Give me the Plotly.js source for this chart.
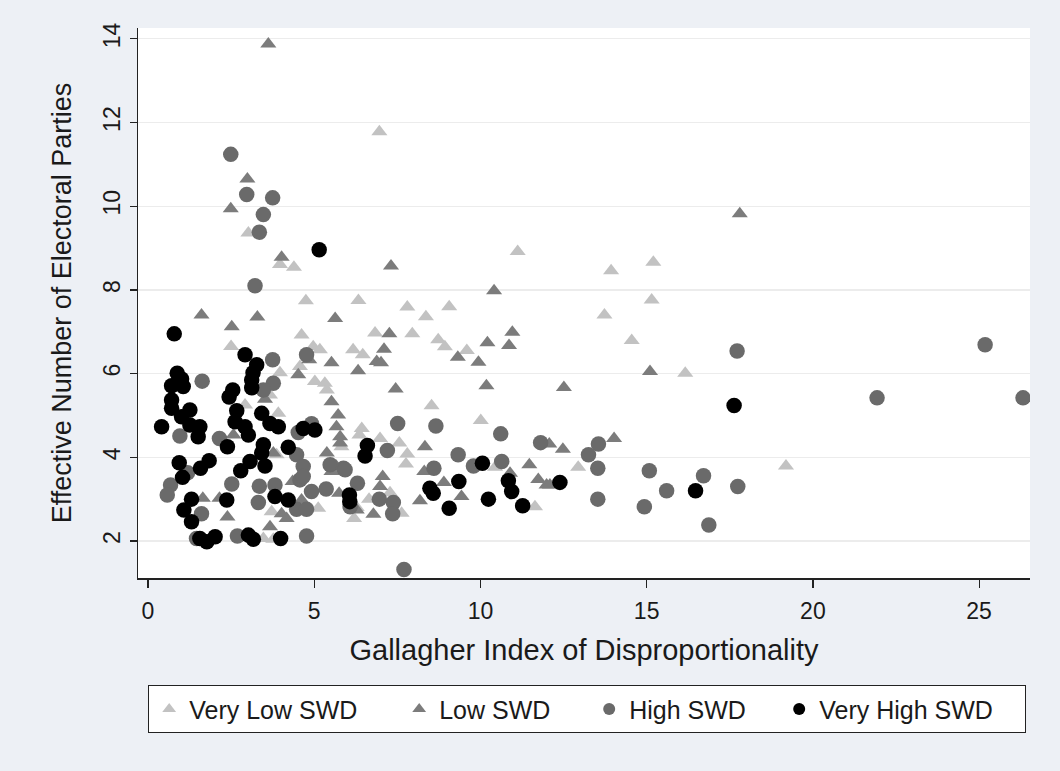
<!DOCTYPE html>
<html>
<head>
<meta charset="utf-8">
<script src="https://cdn.plot.ly/plotly-3.0.1.min.js"></script>
<style>
  html, body { margin: 0; padding: 0; background: #edf0f5; }
  #chart { width: 1060px; height: 771px; }
</style>
</head>
<body>
<div id="chart"></div>
<script>
// Gallagher index (x) and effective number of electoral parties (y), by SWD group
const veryLowX = [2.92,3.02,3.97,4.39,6.96,4.75,6.33,4.62,6.83,2.50,4.97,5.17,6.17,6.46,4.57,3.97,5.02,5.32,5.38,3.67,3.92,6.43,6.36,6.98,5.82,7.56,7.80,7.76,8.53,10.01,10.44,11.64,7.28,7.63,6.20,6.65,6.28,5.12,3.72,3.77,3.47,3.87,11.12,13.93,15.20,15.15,7.80,9.06,8.36,13.73,7.95,8.73,8.93,9.59,14.55,16.16,12.94,19.19];
const veryLowY = [5.25,9.36,8.61,8.54,11.78,7.74,7.75,6.92,6.97,6.65,6.64,6.57,6.57,6.45,6.17,6.02,5.81,5.77,5.61,5.49,5.05,4.69,4.53,4.45,4.25,4.34,4.08,3.84,5.23,4.88,3.76,2.82,3.15,2.66,2.54,3.00,2.80,2.78,2.70,2.04,2.06,4.06,8.92,8.46,8.66,7.76,7.59,7.60,7.36,7.40,6.95,6.81,6.64,6.55,6.79,6.01,3.76,3.79];

const lowX = [3.62,2.99,2.49,4.02,7.31,10.41,1.61,3.29,5.63,2.52,5.52,6.88,4.85,6.32,4.52,3.52,5.52,5.72,5.67,5.78,2.57,1.65,2.15,2.39,5.38,5.78,5.52,3.77,4.35,5.75,4.02,4.17,4.62,6.28,3.67,7.26,10.96,10.21,10.86,7.10,7.01,9.32,9.94,15.10,7.45,10.18,12.51,8.33,11.47,11.74,11.99,10.89,8.90,9.43,8.31,8.18,7.06,6.98,6.78,12.07,12.48,14.02,12.09,17.80,5.67];
const lowY = [13.88,10.65,9.94,8.78,8.57,7.98,7.40,7.35,7.32,7.12,6.26,6.29,6.33,6.07,5.97,5.39,5.33,5.01,4.73,4.49,4.53,3.02,3.02,2.57,4.10,4.34,3.66,4.10,3.42,3.14,2.65,2.54,2.98,2.74,2.34,6.95,6.99,6.74,6.67,6.58,6.26,6.39,6.27,6.05,5.63,5.71,5.67,4.25,3.82,3.47,3.34,3.62,3.40,3.06,3.66,2.96,3.54,3.30,2.64,4.32,4.19,4.45,3.34,9.82,3.78];

const highX = [2.49,2.97,3.75,3.47,3.35,3.22,1.63,3.75,4.77,3.77,3.47,4.92,4.52,0.96,2.15,1.19,0.68,0.58,2.52,1.61,1.46,2.69,4.47,4.67,5.48,5.88,3.35,3.82,4.57,4.92,5.36,6.30,3.32,4.47,4.77,4.77,7.51,8.66,10.61,11.81,7.20,9.33,8.60,9.79,10.64,5.93,6.96,7.38,7.36,6.08,7.70,13.55,13.25,13.53,15.08,16.71,17.74,15.60,13.53,14.93,16.87,17.72,21.93,25.18,26.32,4.67];
const highY = [11.24,10.28,10.20,9.80,9.38,8.10,5.82,6.33,6.45,5.77,5.61,4.80,4.59,4.51,4.45,3.63,3.34,3.10,3.36,2.65,2.06,2.12,4.06,3.78,3.82,3.74,3.31,3.34,3.46,3.18,3.24,3.38,2.92,2.76,2.76,2.12,4.81,4.75,4.56,4.35,4.16,4.06,3.74,3.79,3.90,3.70,3.00,2.92,2.65,2.82,1.32,4.32,4.06,3.74,3.68,3.56,3.30,3.20,3.00,2.82,2.38,6.54,5.42,6.69,5.42,3.54];

const veryHighX = [0.79,2.92,0.88,1.01,0.71,1.06,3.16,3.12,3.12,2.55,2.44,0.71,0.71,1.26,2.67,1.01,2.62,1.26,1.56,0.41,1.51,2.92,3.02,2.39,0.94,1.58,1.84,1.04,3.07,2.79,1.31,2.37,1.08,1.31,1.56,1.77,2.02,3.02,3.17,4.22,3.47,3.42,3.52,6.53,6.60,6.06,6.07,3.82,4.22,3.99,3.27,3.42,3.67,3.92,4.67,5.02,5.15,10.06,10.84,10.94,11.27,10.24,9.35,9.06,8.48,8.58,17.63,12.39,16.47];
const veryHighY = [6.95,6.45,6.01,5.87,5.71,5.69,6.02,5.85,5.66,5.61,5.44,5.37,5.17,5.13,5.11,4.97,4.85,4.77,4.73,4.73,4.49,4.73,4.53,4.25,3.87,3.74,3.92,3.52,3.90,3.68,3.00,2.98,2.74,2.46,2.06,1.98,2.10,2.14,2.04,4.24,4.30,4.10,3.79,4.03,4.28,3.10,2.94,3.06,2.98,2.06,6.21,5.05,4.81,4.73,4.69,4.65,8.96,3.86,3.44,3.18,2.84,3.00,3.42,2.78,3.26,3.14,5.24,3.40,3.20];

const seriesNames = ["Very Low SWD", "Low SWD", "High SWD", "Very High SWD"];
const xTickVals = [0, 5, 10, 15, 20, 25];
const yTickVals = [2, 4, 6, 8, 10, 12, 14];

const xTitle = "Gallagher Index of Disproportionality";
const yTitle = "Effective Number of Electoral Parties";

const FONT = "Liberation Sans, Arial, sans-serif";

function mk(x, y, name, symbol, color, size, lw) {
  return {
    type: "scatter", mode: "markers", x: x, y: y, name: name,
    marker: { symbol: symbol, color: color, size: size, line: { width: 0 } },
    legendwidth: lw,
    hoverinfo: "skip"
  };
}

const data = [
  mk(veryLowX, veryLowY, seriesNames[0], "triangle-up", "#c2c2c2", 14, 205),
  mk(lowX, lowY, seriesNames[1], "triangle-up", "#7c7c7c", 14, 145),
  mk(highX, highY, seriesNames[2], "circle", "#6a6a6a", 15.5, 145),
  mk(veryHighX, veryHighY, seriesNames[3], "circle", "#000000", 15.5, 200)
];

const layout = {
  width: 1060, height: 771,
  paper_bgcolor: "#edf0f5",
  plot_bgcolor: "#ffffff",
  margin: { l: 138, r: 30, t: 28, b: 193, autoexpand: false },
  font: { family: FONT, color: "#1a1a1a" },
  showlegend: true,
  xaxis: {
    range: [-0.3, 26.53],
    tickvals: xTickVals,
    ticks: "outside", ticklen: 8, tickwidth: 1.2, tickcolor: "#222",
    showline: true, linecolor: "#222", linewidth: 1.5,
    showgrid: false, zeroline: false,
    ticklabelstandoff: 4,
    tickfont: { size: 23, family: FONT, color: "#1a1a1a" },
    title: { text: xTitle, font: { size: 29, family: FONT, color: "#1a1a1a" }, standoff: 16 }
  },
  yaxis: {
    range: [1.115, 14.26],
    tickvals: yTickVals,
    tickangle: -90,
    ticks: "outside", ticklen: 7, tickwidth: 1.2, tickcolor: "#222",
    showline: true, linecolor: "#222", linewidth: 1.5,
    showgrid: true, gridcolor: "#ececec", gridwidth: 1.2,
    zeroline: false,
    tickfont: { size: 23, family: FONT, color: "#1a1a1a" },
    title: { text: yTitle, font: { size: 27, family: FONT, color: "#1a1a1a" }, standoff: 20 }
  },
  legend: {
    orientation: "h",
    x: 0.0112, xanchor: "left",
    y: -0.1945, yanchor: "top",
    bgcolor: "#ffffff", bordercolor: "#222", borderwidth: 1.2,
    font: { size: 25, family: FONT, color: "#1a1a1a" },
    itemsizing: "constant",
    traceorder: "normal"
  }
};

Plotly.newPlot("chart", data, layout, { staticPlot: true, displayModeBar: false });
</script>
</body>
</html>
